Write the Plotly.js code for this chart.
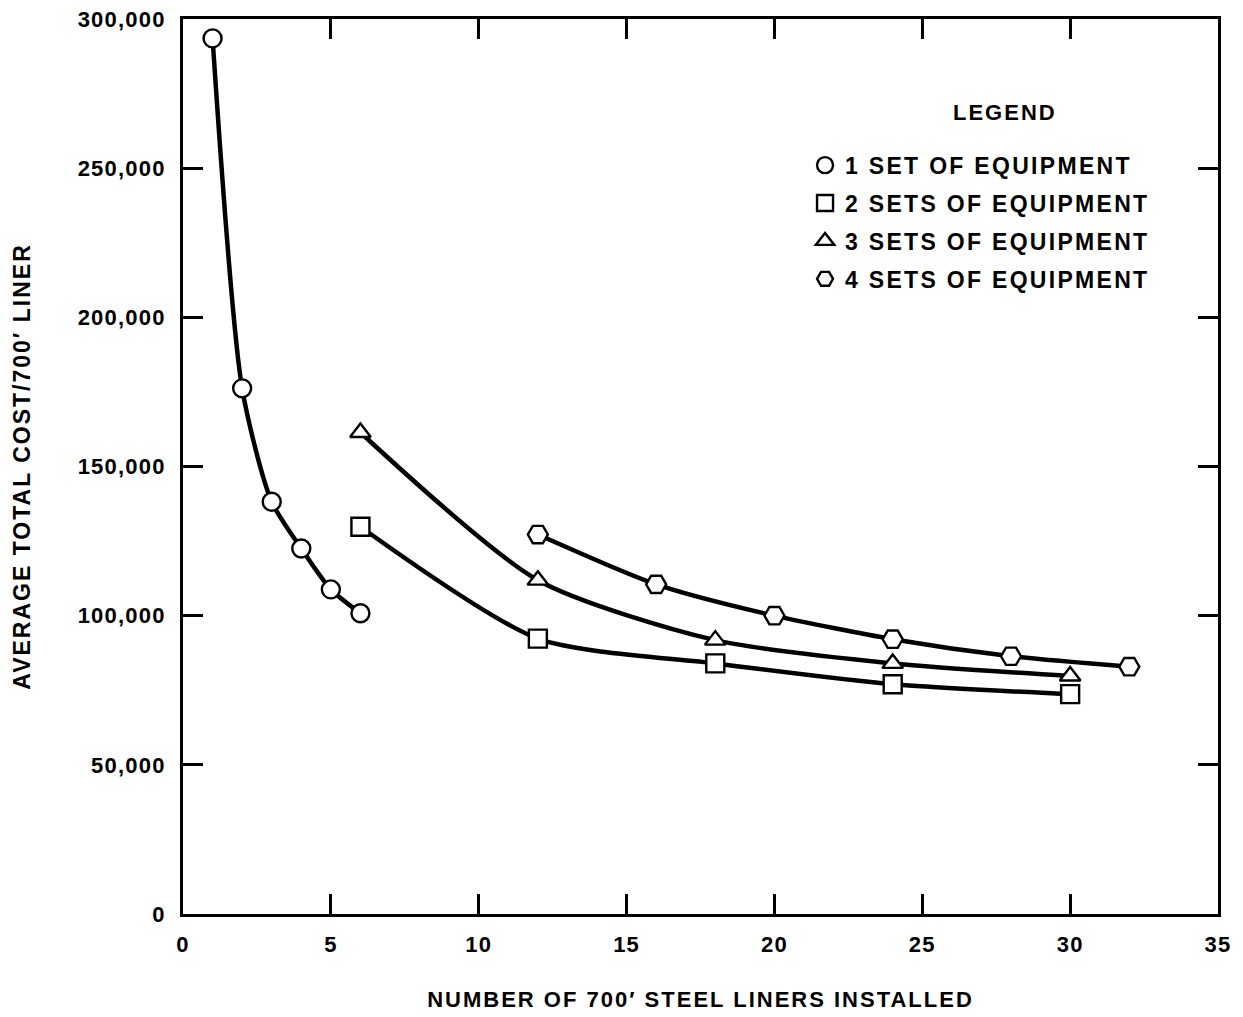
<!DOCTYPE html>
<html>
<head>
<meta charset="utf-8">
<script src="https://cdn.plot.ly/plotly-3.0.1.min.js"></script>
<style>
html,body{margin:0;padding:0;background:#fff;}
#chart{width:1243px;height:1017px;}
#chart text.legendtext{letter-spacing:2.3px;}
#chart g.legend g.scrollbox{clip-path:none !important;}
#chart text.xtitle, #chart text.ytitle{letter-spacing:2px;}
#chart text.annotation-text{letter-spacing:2px;}
#chart g.xtick text, #chart g.ytick text{letter-spacing:1.2px;}
</style>
</head>
<body>
<div id="chart"></div>
<script>
// Data
const seriesNames = ['1 SET OF EQUIPMENT', '2 SETS OF EQUIPMENT', '3 SETS OF EQUIPMENT', '4 SETS OF EQUIPMENT'];
const x1 = [1, 2, 3, 4, 5, 6];
const y1 = [293500, 176200, 138200, 122500, 108800, 100800];
const x2 = [6, 12, 18, 24, 30];
const y2 = [129800, 92300, 84000, 77000, 73700];
const x3 = [6, 12, 18, 24, 30];
const y3 = [161400, 111900, 91800, 84000, 79800];
const x4 = [12, 16, 20, 24, 28, 32];
const y4 = [127200, 110500, 100000, 92100, 86400, 82900];
const xTicks = [0, 5, 10, 15, 20, 25, 30, 35];
const yTicks = [0, 50000, 100000, 150000, 200000, 250000, 300000];

const FONT = '"Liberation Sans", Arial, Helvetica, sans-serif';
const W = 'bold';
const symbols = ['circle', 'square', 'triangle-up', 'hexagon2'];
const sizes = [18, 18, 18, 20];
const xs = [x1, x2, x3, x4];
const ys = [y1, y2, y3, y4];

const traces = [];
// smooth curves
for (let i = 0; i < 4; i++) {
  traces.push({
    x: xs[i], y: ys[i], type: 'scatter', mode: 'lines',
    line: {color: '#000', width: 4.5, shape: 'spline', smoothing: 0.7},
    showlegend: false, hoverinfo: 'skip'
  });
}
// open markers (also legend entries)
for (let i = 0; i < 4; i++) {
  traces.push({
    x: xs[i], y: ys[i], type: 'scatter', mode: 'markers',
    name: seriesNames[i], legendgroup: 'g' + i,
    marker: {symbol: symbols[i], size: sizes[i], color: '#fff', line: {color: '#000', width: 2.4}}
  });
}

const layout = {
  width: 1243, height: 1017,
  margin: {l: 183, r: 25, t: 19, b: 103},
  paper_bgcolor: '#fff', plot_bgcolor: '#fff',
  font: {family: FONT, color: '#000', size: 22, weight: W},
  showlegend: true,
  legend: {
    x: 0.601, y: 0.8607, xanchor: 'left', yanchor: 'top',
    bgcolor: 'rgba(0,0,0,0)', borderwidth: 0,
    tracegroupgap: 5,
    font: {family: FONT, size: 23, color: '#000', weight: W}
  },
  annotations: [{
    text: 'LEGEND', xref: 'paper', yref: 'paper', x: 0.794, y: 0.896,
    xanchor: 'center', yanchor: 'middle', showarrow: false,
    font: {family: FONT, size: 22, color: '#000', weight: W}
  }],
  xaxis: {
    range: [0, 35], tickvals: xTicks, ticktext: xTicks.map(String),
    showgrid: false, zeroline: false,
    showline: true, linecolor: '#000', linewidth: 3, mirror: 'ticks',
    ticks: 'inside', ticklen: 20, tickwidth: 3, tickcolor: '#000',
    ticklabelstandoff: 9,
    tickfont: {family: FONT, size: 22, color: '#000', weight: W},
    title: {text: "NUMBER OF 700′ STEEL LINERS INSTALLED", standoff: 36,
            font: {family: FONT, size: 22, color: '#000', weight: W}}
  },
  yaxis: {
    range: [0, 300000], tickvals: yTicks, tickformat: ',d',
    showgrid: false, zeroline: false,
    showline: true, linecolor: '#000', linewidth: 3, mirror: 'ticks',
    ticks: 'inside', ticklen: 20, tickwidth: 3, tickcolor: '#000',
    ticklabelstandoff: 10,
    tickfont: {family: FONT, size: 22, color: '#000', weight: W},
    title: {text: "AVERAGE TOTAL COST/700′ LINER", standoff: 50,
            font: {family: FONT, size: 23, color: '#000', weight: W}}
  }
};

Plotly.newPlot('chart', traces, layout, {displayModeBar: false, staticPlot: true});
</script>
</body>
</html>
